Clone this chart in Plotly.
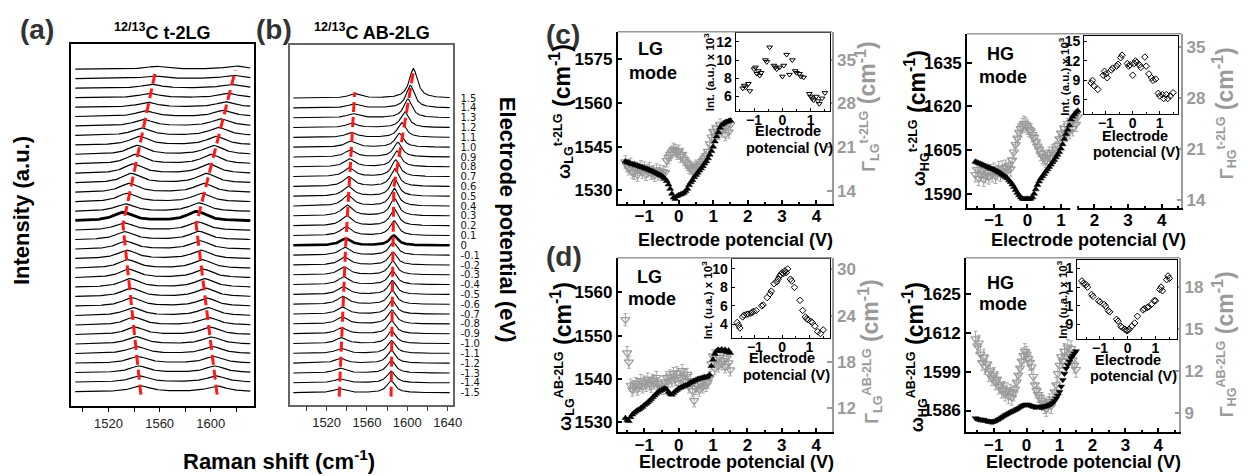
import numpy as np
import plotly.graph_objects as go

# ======================= DATA =======================
# (a) 12/13C t-2LG : stacked G-band spectra, bottom trace first
a_lg_pos = [1545.3, 1544.5, 1543.8, 1543.0, 1542.2, 1541.4, 1540.6, 1539.8, 1539.0, 1538.2,
            1537.5, 1536.7, 1535.9, 1535.1, 1534.3, 1533.5, 1532.7, 1532.0, 1531.3,
            1532.9, 1534.5, 1536.1, 1537.7, 1539.3, 1540.9, 1542.5, 1544.1, 1545.7, 1547.3,
            1548.9, 1550.5, 1552.1, 1553.7, 1555.3, 1556.9]
a_hg_pos = [1605.0, 1604.1, 1603.2, 1602.3, 1601.4, 1600.5, 1599.6, 1598.7, 1597.8, 1597.0,
            1596.1, 1595.2, 1594.3, 1593.4, 1592.5, 1591.6, 1590.7, 1589.8, 1588.9,
            1590.8, 1592.7, 1594.6, 1596.5, 1598.4, 1600.3, 1602.2, 1604.1, 1606.0, 1607.9,
            1609.8, 1611.7, 1613.6, 1615.5, 1617.4, 1619.3]
a_lg_amp = [0.6, 0.65, 0.7, 0.7, 0.75, 0.8, 0.8, 0.85, 0.85, 0.9,
            0.9, 0.9, 0.9, 0.9, 0.9, 0.85, 0.85, 0.8, 0.9,
            0.8, 0.9, 0.95, 1.0, 1.0, 1.0, 0.95, 0.9, 0.8, 0.7, 0.6, 0.5, 0.45, 0.4, 0.3, 0.3]
a_hg_amp = [0.6, 0.65, 0.7, 0.7, 0.75, 0.75, 0.8, 0.8, 0.85, 0.85,
            0.9, 0.9, 0.9, 0.9, 0.9, 0.9, 0.9, 0.9, 1.0,
            0.9, 0.9, 0.95, 1.0, 1.0, 1.0, 0.95, 0.9, 0.85, 0.75, 0.65, 0.55, 0.45, 0.4, 0.35, 0.35]
a_zero_index = 18
a_lg_guide_x = [1545.3, 1531.3, 1556.9]
a_hg_guide_x = [1605.0, 1588.6, 1619.3]
a_guide_y = [-0.3, 17.6, 33.9]

# (b) 12/13C AB-2LG : spectra for electrode potentials -1.5 ... 1.5
b_potentials = ["-1.5", "-1.4", "-1.3", "-1.2", "-1.1", "-1.0", "-0.9", "-0.8", "-0.7", "-0.6",
                "-0.5", "-0.4", "-0.3", "-0.2", "-0.1", "0", "0.1", "0.2", "0.3", "0.4",
                "0.5", "0.6", "0.7", "0.8", "0.9", "1.0", "1.1", "1.2", "1.3", "1.4", "1.5"]
b_lg_pos = [1532.5, 1532.9, 1533.3, 1533.7, 1534.1, 1534.5, 1534.9, 1535.3, 1535.7, 1536.1,
            1536.5, 1536.9, 1537.3, 1537.7, 1538.2, 1538.8, 1539.3, 1539.8, 1540.3, 1540.8,
            1541.3, 1541.8, 1542.3, 1542.8, 1543.3, 1543.8, 1544.4, 1545.0, 1545.8, 1546.6, 1547.5]
b_hg_pos = [1583.8, 1583.9, 1584.0, 1584.1, 1584.3, 1584.4, 1584.5, 1584.7, 1584.8, 1585.0,
            1585.1, 1585.3, 1585.5, 1585.7, 1586.0, 1586.6, 1586.8, 1587.0, 1587.0, 1587.0,
            1587.2, 1587.5, 1588.5, 1589.5, 1590.5, 1592.0, 1594.5, 1597.5, 1600.5, 1603.0, 1606.0]
b_lg_amp = [0.4, 0.4, 0.5, 0.5, 0.5, 0.6, 0.6, 0.7, 0.7, 0.8,
            0.8, 0.8, 0.8, 0.8, 0.8, 0.7, 0.9, 1.0, 1.1, 1.1,
            1.0, 1.0, 0.9, 0.8, 0.7, 0.6, 0.5, 0.45, 0.4, 0.4, 0.45]
b_hg_amp = [1.2, 1.2, 1.3, 1.3, 1.3, 1.3, 1.3, 1.4, 1.4, 1.4,
            1.4, 1.4, 1.4, 1.3, 1.3, 1.0, 1.5, 1.7, 1.8, 1.8,
            1.8, 1.8, 1.7, 1.6, 1.5, 1.4, 1.5, 1.6, 1.9, 2.3, 3.0]
b_zero_index = 15
b_lg_guide_x = [1532.5, 1539.0, 1547.8]
b_lg_guide_y = [-0.4, 15.2, 30.6]
b_hg_guide_x = [1583.9, 1586.6, 1606.5]
b_hg_guide_y = [-0.4, 20.9, 33.0]

# (c),(d) electrode potential (V)
cd_v = [-1.55, -1.50, -1.45, -1.40, -1.35, -1.30, -1.25, -1.20, -1.15, -1.10, -1.05, -1.00,
        -0.95, -0.90, -0.85, -0.80, -0.75, -0.70, -0.65, -0.60, -0.55, -0.50, -0.45, -0.40,
        -0.35, -0.30, -0.25, -0.20, -0.15, -0.10, -0.05, 0.00, 0.05, 0.10, 0.15, 0.20, 0.25,
        0.30, 0.35, 0.40, 0.45, 0.50, 0.55, 0.60, 0.65, 0.70, 0.75, 0.80, 0.85, 0.90, 0.95,
        1.00, 1.05, 1.10, 1.15, 1.20, 1.25, 1.30, 1.35, 1.40, 1.45, 1.50]

# (c) t-2LG, LG mode
c_lg_omega = [1540.0, 1539.6, 1539.5, 1539.2, 1539.0, 1538.9, 1538.6, 1538.5, 1538.2, 1538.0,
              1537.9, 1537.6, 1537.4, 1537.2, 1537.0, 1536.7, 1536.5, 1536.2, 1535.9, 1535.6,
              1535.3, 1535.0, 1534.5, 1534.0, 1533.2, 1532.0, 1530.5, 1528.8, 1527.5, 1527.0, 1528.0,
              1528.4, 1528.6, 1528.8, 1529.2, 1529.8, 1530.5, 1531.8, 1532.8, 1533.5, 1534.5,
              1535.3, 1536.0, 1536.8, 1537.5, 1538.3, 1539.2, 1540.0, 1541.0, 1542.2, 1543.5,
              1545.0, 1546.8, 1548.5, 1550.0, 1551.5, 1552.5, 1553.0, 1553.4, 1553.6, 1553.8, 1554.0]
c_lg_gamma = [18.6, 18.0, 17.5, 18.2, 17.0, 16.8, 17.6, 16.5, 17.4, 17.8,
              16.9, 17.6, 16.6, 17.2, 17.5, 16.8, 17.0, 16.5, 17.3, 16.7,
              17.1, 16.6, 17.0, 16.9, 18.8, 19.3, 19.8, 20.2, 20.6, 20.4, 20.0,
              20.3, 19.5, 19.8, 19.0, 18.6, 18.2, 17.8, 17.6, 17.3, 17.6,
              17.9, 17.5, 18.0, 18.4, 18.8, 19.2, 19.6, 20.3, 21.5, 22.6,
              23.5, 22.8, 24.0, 23.2, 24.5, 23.6, 24.2, 23.0, 24.4, 23.4, 24.6]
c_lg_int_v = [-1.40, -1.35, -1.30, -1.20, -1.15, -1.00, -0.95, -0.90, -0.85, -0.80, -0.75,
              -0.60, -0.55, -0.45, -0.30, -0.25, -0.20, -0.10, 0.00, 0.05, 0.15, 0.25, 0.35,
              0.45, 0.50, 0.60, 0.65, 0.75, 0.95, 1.00, 1.05, 1.10, 1.20, 1.25, 1.30, 1.40, 1.50]
c_lg_int = [6.9, 7.2, 7.0, 7.4, 6.6, 9.0, 9.2, 8.5, 8.8, 8.3, 8.6,
            10.0, 9.8, 11.4, 9.4, 9.2, 9.0, 9.2, 8.2, 9.4, 10.6, 8.4, 10.0,
            8.8, 8.6, 8.5, 8.2, 8.1, 6.3, 6.0, 5.8, 5.6, 6.0, 5.5, 5.2, 5.8, 6.4]

# (c) t-2LG, HG mode
c_hg_omega = [1601.0, 1600.8, 1600.5, 1600.3, 1600.0, 1599.8, 1599.5, 1599.3, 1599.0, 1598.8,
              1598.5, 1598.3, 1598.0, 1597.7, 1597.4, 1597.0, 1596.6, 1596.2, 1595.8, 1595.3,
              1594.6, 1594.0, 1593.2, 1592.3, 1591.3, 1590.3, 1589.5, 1588.8, 1588.3, 1588.2, 1588.2,
              1588.3, 1588.2, 1588.3, 1588.8, 1590.0, 1591.5, 1593.0, 1594.2, 1595.2, 1596.0,
              1596.8, 1597.6, 1598.4, 1599.2, 1600.0, 1600.8, 1601.6, 1602.5, 1603.4, 1604.3,
              1605.5, 1607.0, 1608.8, 1610.5, 1612.0, 1613.5, 1615.5, 1616.5, 1617.3, 1618.0, 1618.5]
c_hg_gamma = [17.5, 18.2, 17.0, 17.6, 18.0, 16.9, 17.4, 17.8, 17.2, 17.9,
              17.5, 18.1, 17.3, 17.8, 18.3, 17.6, 18.4, 17.9, 18.5, 18.0,
              18.8, 18.3, 19.5, 20.6, 21.6, 22.5, 23.3, 23.8, 24.2, 24.5, 24.3,
              24.0, 23.7, 23.5, 23.0, 22.6, 22.0, 21.4, 21.0, 20.4, 20.0,
              19.8, 19.5, 19.9, 20.3, 19.8, 20.6, 20.2, 21.0, 21.5, 22.4,
              23.2, 22.6, 23.8, 23.0, 24.2, 23.4, 24.6, 23.8, 25.2, 24.4, 25.4]
c_hg_int_v = [-1.55, -1.50, -1.45, -1.30, -1.10, -1.05, -1.00, -0.95, -0.80, -0.75, -0.60,
              -0.55, -0.45, -0.40, -0.20, -0.15, -0.10, 0.00, 0.05, 0.10, 0.15, 0.25, 0.30,
              0.45, 0.50, 0.60, 0.70, 0.75, 0.85, 0.95, 1.00, 1.10, 1.15, 1.25, 1.30, 1.40, 1.50]
c_hg_int = [8.6, 9.0, 8.2, 7.6, 9.8, 10.4, 10.0, 9.4, 10.6, 10.9, 11.2,
            11.5, 12.5, 12.9, 11.6, 11.2, 11.4, 9.8, 11.6, 12.0, 11.8, 11.4, 11.0,
            12.6, 11.2, 10.0, 9.4, 9.0, 9.2, 7.0, 6.6, 6.8, 6.2, 6.8, 6.2, 6.6, 7.1]

# (d) AB-2LG, LG mode
d_lg_omega = [1531.0, 1530.5, 1530.3, 1531.2, 1531.8, 1532.2, 1532.5, 1532.8, 1533.0, 1533.3,
              1533.6, 1534.0, 1534.3, 1534.6, 1535.0, 1535.4, 1535.8, 1536.2, 1536.6, 1537.0,
              1537.3, 1537.5, 1537.7, 1537.8, 1537.6, 1537.0, 1536.6, 1536.4, 1536.8, 1537.2, 1537.5,
              1537.8, 1538.0, 1538.2, 1538.4, 1538.5, 1538.7, 1539.0, 1539.2, 1539.4, 1539.6,
              1539.8, 1540.0, 1540.1, 1540.2, 1540.3, 1540.4, 1540.4, 1540.6, 1541.0, 1543.0,
              1544.5, 1545.8, 1546.5, 1546.8, 1546.5, 1546.9, 1546.4, 1546.8, 1546.2, 1546.6, 1546.0]
d_lg_gamma = [23.5, 19.2, 18.0, 15.0, 14.4, 14.8, 15.2, 14.5, 15.0, 15.6,
              14.8, 15.4, 15.0, 15.8, 15.2, 14.9, 15.6, 15.3, 16.0, 15.2,
              14.7, 14.9, 14.6, 15.4, 16.0, 15.5, 16.2, 15.6, 16.5, 15.8, 16.6,
              15.2, 16.0, 16.9, 16.2, 15.5, 16.4, 14.8, 15.6, 14.3, 13.0,
              14.6, 15.0, 14.4, 15.2, 14.8, 15.6, 15.0, 15.4, 16.0, 17.8,
              18.8, 17.2, 18.4, 17.5, 18.6, 17.8, 18.2, 17.4, 18.5, 17.9, 17.0]
d_lg_int_v = [-1.65, -1.60, -1.55, -1.45, -1.40, -1.30, -1.25, -1.15, -1.10, -1.05, -0.95,
              -0.75, -0.70, -0.55, -0.45, -0.40, -0.30, -0.20, -0.15, -0.10, -0.05, 0.00,
              0.05, 0.10, 0.15, 0.20, 0.30, 0.35, 0.45, 0.65, 0.75, 0.85, 0.90, 0.95, 1.05,
              1.10, 1.20, 1.30, 1.40, 1.50]
d_lg_int = [4.2, 3.9, 3.6, 4.8, 5.0, 5.1, 5.1, 5.2, 5.3, 5.4, 5.5,
            6.0, 6.1, 6.9, 7.3, 7.6, 8.4, 8.6, 8.9, 9.2, 9.4, 9.6,
            9.5, 9.8, 9.6, 10.0, 8.9, 8.7, 8.0, 6.6, 5.5, 4.8, 4.6, 4.5, 4.3,
            4.2, 3.8, 3.2, 3.0, 3.4]

# (d) AB-2LG, HG mode
d_hg_omega = [1583.4, 1583.2, 1583.0, 1583.0, 1582.8, 1582.9, 1582.6, 1582.5, 1582.4, 1582.3,
              1582.2, 1582.3, 1582.5, 1582.7, 1583.0, 1583.3, 1583.7, 1584.0, 1584.4, 1584.7,
              1585.0, 1585.3, 1585.6, 1585.8, 1586.1, 1586.4, 1586.7, 1587.0, 1587.4, 1587.7, 1587.9,
              1588.0, 1587.9, 1587.7, 1587.5, 1587.3, 1587.2, 1587.2, 1587.3, 1587.2, 1587.1,
              1587.2, 1587.4, 1587.5, 1587.7, 1587.9, 1588.2, 1588.6, 1589.2, 1590.0, 1591.0,
              1592.2, 1594.0, 1596.2, 1598.3, 1600.0, 1601.2, 1602.4, 1603.5, 1604.3, 1605.0, 1605.8]
d_hg_gamma = [14.3, 13.8, 14.0, 13.2, 12.6, 13.0, 12.3, 12.5, 11.8, 12.0,
              11.5, 11.7, 11.2, 11.4, 10.9, 11.0, 10.6, 10.7, 10.4, 10.6,
              10.2, 10.5, 10.1, 10.4, 10.7, 11.2, 11.7, 12.2, 12.7, 13.1, 13.4,
              13.2, 12.9, 12.6, 12.3, 11.6, 11.0, 10.6, 10.3, 10.1, 9.9,
              9.7, 9.5, 9.3, 9.6, 9.8, 9.5, 10.0, 10.5, 11.0, 11.8,
              12.4, 13.0, 12.7, 13.4, 13.0, 13.7, 13.2, 13.6, 12.8, 12.4, 12.1]
d_hg_int_v = [-1.65, -1.60, -1.50, -1.45, -1.30, -1.25, -1.05, -1.00, -0.85, -0.80, -0.70,
              -0.65, -0.40, -0.35, -0.25, -0.20, -0.10, -0.05, 0.00, 0.05, 0.15, 0.25, 0.35,
              0.55, 0.60, 0.70, 0.75, 0.85, 0.95, 1.00, 1.15, 1.20, 1.25, 1.40, 1.45, 1.50]
d_hg_int = [16.0, 15.6, 15.4, 15.0, 13.8, 13.5, 12.8, 12.6, 12.2, 11.9, 11.2,
            11.0, 9.8, 9.5, 8.7, 8.5, 8.2, 8.0, 8.0, 8.2, 8.7, 9.2, 10.3,
            11.3, 11.5, 11.7, 11.8, 12.2, 12.8, 12.8, 14.6, 15.0, 14.4, 16.2, 16.8, 16.4]

# ======================= FIGURE =======================
FW, FH = 1248, 476
FONT = "Liberation Sans, Arial, sans-serif"
GRAY = "#9a9a9a"
RED = "#ff1a1a"


def dx(a, b):
    return [a / FW, b / FW]


def dy(top, bottom):
    return [1 - bottom / FH, 1 - top / FH]


def lorentz(x, x0, h, fwhm):
    return h / (1.0 + ((x - x0) / (fwhm / 2.0)) ** 2)


def ax(**kw):
    base = dict(showgrid=False, zeroline=False)
    base.update(kw)
    return base


def ann(text, x, y, size, color="black", angle=0, weight="bold", family=FONT):
    return dict(text=text, x=x / FW, y=1 - y / FH, xref="paper", yref="paper",
                showarrow=False, xanchor="center", yanchor="middle", textangle=angle,
                font=dict(family=family, size=size, color=color, weight=weight))


fig = go.Figure()
layout = dict(width=FW, height=FH, margin=dict(l=0, r=0, t=0, b=0),
              paper_bgcolor="white", plot_bgcolor="white", showlegend=False,
              hovermode=False)
annotations = []
shapes = []

# ---------- (a) ----------
xa = np.linspace(1494, 1631, 320)
for k in range(len(a_lg_pos)):
    yk = k + lorentz(xa, a_lg_pos[k], a_lg_amp[k], 18) + lorentz(xa, a_hg_pos[k], a_hg_amp[k], 18)
    fig.add_trace(go.Scatter(x=xa, y=yk, mode="lines", xaxis="x", yaxis="y",
                             line=dict(color="black", width=2.8 if k == a_zero_index else 1.2)))
for gx in (a_lg_guide_x, a_hg_guide_x):
    fig.add_trace(go.Scatter(x=gx, y=a_guide_y, mode="lines", xaxis="x", yaxis="y",
                             line=dict(color=RED, width=3, dash="10px,5px")))

layout["xaxis"] = ax(domain=dx(72, 256), range=[1491, 1634], anchor="y",
                     tickvals=[1500, 1520, 1540, 1560, 1580, 1600, 1620],
                     ticktext=["", "1520", "", "1560", "", "1600", ""],
                     ticks="outside", ticklen=5, tickcolor="black", showline=True, mirror=True,
                     linecolor="black", linewidth=1.5,
                     tickfont=dict(family=FONT, size=13, color="#222"))
layout["yaxis"] = ax(domain=dy(42, 407), range=[-1.46, 36.7], anchor="x",
                     showticklabels=False, ticks="", showline=True, mirror=True,
                     linecolor="black", linewidth=1.5)

# ---------- (b) ----------
xb = np.linspace(1487, 1642, 340)
for k in range(len(b_lg_pos)):
    yk = k + lorentz(xb, b_lg_pos[k], b_lg_amp[k], 13) + lorentz(xb, b_hg_pos[k], b_hg_amp[k], 10)
    fig.add_trace(go.Scatter(x=xb, y=yk, mode="lines", xaxis="x2", yaxis="y2",
                             line=dict(color="black", width=2.6 if k == b_zero_index else 1.1)))
fig.add_trace(go.Scatter(x=b_lg_guide_x, y=b_lg_guide_y, mode="lines", xaxis="x2", yaxis="y2",
                         line=dict(color=RED, width=3, dash="10px,5px")))
fig.add_trace(go.Scatter(x=b_hg_guide_x, y=b_hg_guide_y, mode="lines", xaxis="x2", yaxis="y2",
                         line=dict(color=RED, width=3, dash="10px,5px")))

layout["xaxis2"] = ax(domain=dx(292, 456), range=[1483.6, 1645], anchor="y2",
                      tickvals=[1500, 1520, 1540, 1560, 1580, 1600, 1620, 1640],
                      ticktext=["", "1520", "", "1560", "", "1600", "", "1640"],
                      ticks="outside", ticklen=5, tickcolor="#444", showline=True, mirror=True,
                      linecolor="#666", linewidth=1.5,
                      tickfont=dict(family=FONT, size=13, color="#222"))
layout["yaxis2"] = ax(domain=dy(43, 406), range=[-1.21, 35.45], anchor="x2", side="right",
                      tickvals=list(range(len(b_potentials))), ticktext=b_potentials,
                      ticks="", ticklabelstandoff=4, showline=True, mirror=True,
                      linecolor="#666", linewidth=1.5,
                      tickfont=dict(family="DejaVu Sans", size=10, color="#111"))

# ---------- (c), (d) ----------
panels = [
    dict(xid=3, yid=3, yrid=4, xiid=4, yiid=5, box=(622, 838, 30, 204), xr=[-1.78, 4.45],
         yl=[1525.2, 1584.5], ylt=[1530, 1545, 1560, 1575], yr=[11.8, 39.5], yrt=[14, 21, 28, 35],
         om=c_lg_omega, ga=c_lg_gamma, gerr=1.0, osym="triangle-up",
         ibox=(741, 836, 31, 110), ixr=[-1.65, 1.68], iyr=[4.4, 13.0],
         iyt=[6, 8, 10, 12], iytt=["6", "8", "10", "12"],
         iv=c_lg_int_v, ii=c_lg_int, isym="triangle-down-open"),
    dict(xid=5, yid=6, yrid=7, xiid=6, yiid=8, box=(974, 1190, 32, 208), xr=[-1.80, 4.59],
         yl=[1585, 1645], ylt=[1590, 1605, 1620, 1635], yr=[12.9, 36.8], yrt=[14, 21, 28, 35],
         om=c_hg_omega, ga=c_hg_gamma, gerr=1.0, osym="triangle-up",
         ibox=(1092, 1187, 34, 113), ixr=[-1.81, 1.70], iyr=[3.8, 15.9],
         iyt=[6, 9, 12, 15], iytt=["6", "9", "12", "15"],
         iv=c_hg_int_v, ii=c_hg_int, isym="diamond-open"),
    dict(xid=7, yid=9, yrid=10, xiid=8, yiid=11, box=(622, 838, 258, 434), xr=[-1.78, 4.46],
         yl=[1527.7, 1568], ylt=[1530, 1540, 1550, 1560], yr=[8.9, 31.5], yrt=[12, 18, 24, 30],
         om=d_lg_omega, ga=d_lg_gamma, gerr=0.8, osym="triangle-up",
         ibox=(737, 836, 259, 339), ixr=[-1.85, 1.75], iyr=[2.5, 11.1],
         iyt=[4, 6, 8, 10], iytt=["4", "6", "8", "10"],
         iv=d_lg_int_v, ii=d_lg_int, isym="diamond-open"),
    dict(xid=9, yid=12, yrid=13, xiid=10, yiid=14, box=(973, 1188, 258, 434), xr=[-1.84, 4.64],
         yl=[1578.7, 1637], ylt=[1586, 1599, 1612, 1625], yr=[7.6, 20.1], yrt=[9, 12, 15, 18],
         om=d_hg_omega, ga=d_hg_gamma, gerr=0.55, osym="triangle-down",
         ibox=(1085, 1186, 260, 340), ixr=[-1.82, 1.79], iyr=[6.6, 19.4],
         iyt=[9, 12, 15, 18], iytt=["9", "1", "1", "1"],
         iv=d_hg_int_v, ii=d_hg_int, isym="diamond-open"),
]

F_MAIN = dict(family=FONT, size=17, color="black", weight="bold")
F_GRAY = dict(family=FONT, size=17, color=GRAY, weight="bold")
F_INSET = dict(family=FONT, size=14, color="black", weight="bold")

for p in panels:
    # base y axis (right, gray) carries the linewidth; overlay (left, black) carries the frequency
    xk, ygk, yok = f"x{p['xid']}", f"y{p['yid']}", f"y{p['yrid']}"
    xik, yik = f"x{p['xiid']}", f"y{p['yiid']}"
    x0, x1, y0, y1 = p["box"]
    layout[f"xaxis{p['xid']}"] = ax(
        domain=dx(x0, x1), range=p["xr"], anchor=ygk, dtick=1, tick0=0,
        ticks="inside", ticklen=5, tickwidth=1.5, tickcolor="black", ticklabelstandoff=-4,
        minor=dict(dtick=0.5, tick0=0, ticks="inside", ticklen=3, tickcolor="black", showgrid=False),
        showline=True, linecolor="black", linewidth=1.5, tickfont=F_MAIN)
    layout[f"yaxis{p['yid']}"] = ax(
        domain=dy(y0, y1), range=p["yr"], anchor=xk, side="right", tickvals=p["yrt"],
        ticks="inside", ticklen=5, tickwidth=1.5, tickcolor=GRAY,
        showline=True, linecolor=GRAY, linewidth=1.5, tickfont=F_GRAY)
    layout[f"yaxis{p['yrid']}"] = ax(
        overlaying=ygk, side="left", anchor=xk, range=p["yl"], tickvals=p["ylt"],
        ticks="inside", ticklen=5, tickwidth=1.5, tickcolor="black",
        showline=True, linecolor="black", linewidth=1.5, tickfont=F_MAIN)
    shapes.append(dict(type="line", xref=f"{xk} domain", yref=f"{ygk} domain",
                       x0=0, x1=1, y0=1, y1=1, line=dict(color=GRAY, width=1.5)))

    fig.add_trace(go.Scatter(x=cd_v, y=p["ga"], mode="markers", xaxis=xk, yaxis=ygk,
                             marker=dict(symbol="triangle-down-open", size=8, color=GRAY,
                                         line=dict(width=1.2, color=GRAY)),
                             error_y=dict(type="constant", value=p["gerr"], color="#a8a8a8",
                                          thickness=1, width=2)))
    fig.add_trace(go.Scatter(x=cd_v, y=p["om"], mode="markers", xaxis=xk, yaxis=yok,
                             marker=dict(symbol=p["osym"], size=6, color="black",
                                         line=dict(width=0.5, color="black"))))

    ix0, ix1, iy0, iy1 = p["ibox"]
    layout[f"xaxis{p['xiid']}"] = ax(
        domain=dx(ix0, ix1), range=p["ixr"], anchor=yik, dtick=1, tick0=0,
        ticks="inside", ticklen=3, tickcolor="black", ticklabelstandoff=-4,
        minor=dict(dtick=0.5, tick0=0, ticks="inside", ticklen=2, tickcolor="black", showgrid=False),
        showline=True, mirror=True, linecolor="black", linewidth=1, tickfont=F_INSET)
    layout[f"yaxis{p['yiid']}"] = ax(
        domain=dy(iy0, iy1), range=p["iyr"], anchor=xik, tickvals=p["iyt"], ticktext=p["iytt"],
        ticks="inside", ticklen=3, tickcolor="black",
        showline=True, mirror=True, linecolor="black", linewidth=1, tickfont=F_INSET)
    fig.add_trace(go.Scatter(x=p["iv"], y=p["ii"], mode="markers", xaxis=xik, yaxis=yik,
                             marker=dict(symbol=p["isym"], size=5, color="black",
                                         line=dict(width=1, color="black"))))

# white strip present in the original figure
shapes.append(dict(type="rect", xref="paper", yref="paper", layer="above",
                   x0=1078 / FW, x1=1085 / FW, y0=1 - 250 / FH, y1=1 - 140 / FH,
                   fillcolor="white", line=dict(width=0)))

# ---------- text ----------
annotations += [
    ann("(a)", 37, 28, 28, "#333"),
    ann("(b)", 276, 28, 28, "#333"),
    ann("(c)", 567, 33, 28, "#333"),
    ann("(d)", 568, 257, 28, "#333"),
    ann("<sup>12/13</sup>C t-2LG", 164, 30, 18),
    ann("<sup>12/13</sup>C AB-2LG", 375, 30, 18),
    ann("Intensity (a.u.)", 21, 210, 22, angle=-90),
    ann("Raman shift (cm<sup>-1</sup>)", 281, 462, 22),
    ann("Electrode potential (eV)", 512, 220, 22, angle=90),
    ann("Electrode potencial (V)", 741, 240, 18),
    ann("Electrode potencial (V)", 1096, 240, 18),
    ann("Electrode potencial (V)", 742, 464, 18),
    ann("Electrode potencial (V)", 1091, 464, 18),
    ann("LG", 655, 47, 18), ann("mode", 658, 72, 18),
    ann("HG", 1008, 52, 18), ann("mode", 1010, 76, 18),
    ann("LG", 654, 277, 18), ann("mode", 657, 300, 18),
    ann("HG", 1008, 283, 18), ann("mode", 1010, 305, 18),
    ann("Int. (a.u.) x 10<sup>3</sup>", 715, 70, 11.5, angle=-90),
    ann("Int. (a.u.) x 10<sup>3</sup>", 1072, 75, 11.5, angle=-90),
    ann("Int. (u.a.) x 10<sup>3</sup>", 713, 300, 11.5, angle=-90),
    ann("Int. (u.a.) x 10<sup>3</sup>", 1070, 300, 11.5, angle=-90),
    ann("Electrode", 794, 130, 14.5), ann("potencial (V)", 795, 147, 14.5),
    ann("Electrode", 1143, 135, 14.5), ann("potencial (V)", 1145, 151, 14.5),
    ann("Electrode", 788, 359, 14.5), ann("potencial (V)", 792, 376, 14.5),
    ann("Electrode", 1136, 361, 14.5), ann("potencial (V)", 1142, 377, 14.5),
]

SM = "<span style='font-size:18px'>"
annotations += [
    ann(SM + "ω<sub>LG</sub><sup>t-2LG</sup></span> (cm<sup>-1</sup>)", 564, 110, 23, angle=-90),
    ann(SM + "Γ<sub>LG</sub><sup>t-2LG</sup></span> (cm<sup>-1</sup>)", 872, 105, 23, GRAY, angle=-90),
    ann(SM + "ω<sub>HG</sub><sup>t-2LG</sup></span> (cm<sup>-1</sup>)", 922, 117, 23, angle=-90),
    ann(SM + "Γ<sub>HG</sub><sup>t-2LG</sup></span> (cm<sup>-1</sup>)", 1232, 112, 23, GRAY, angle=-90),
    ann(SM + "ω<sub>LG</sub><sup>AB-2LG</sup></span> (cm<sup>-1</sup>)", 565, 357, 23, angle=-90),
    ann(SM + "Γ<sub>LG</sub><sup>AB-2LG</sup></span> (cm<sup>-1</sup>)", 875, 352, 23, GRAY, angle=-90),
    ann(SM + "ω<sub>HG</sub><sup>AB-2LG</sup></span> (cm<sup>-1</sup>)", 921, 358, 23, angle=-90),
    ann(SM + "Γ<sub>HG</sub><sup>AB-2LG</sup></span> (cm<sup>-1</sup>)", 1232, 345, 23, GRAY, angle=-90),
]

layout["annotations"] = annotations
layout["shapes"] = shapes
fig.update_layout(**layout)
fig.write_html("out.html", config={"displayModeBar": False},
               post_script="document.body.style.margin='0px';document.body.style.overflow='hidden';")
